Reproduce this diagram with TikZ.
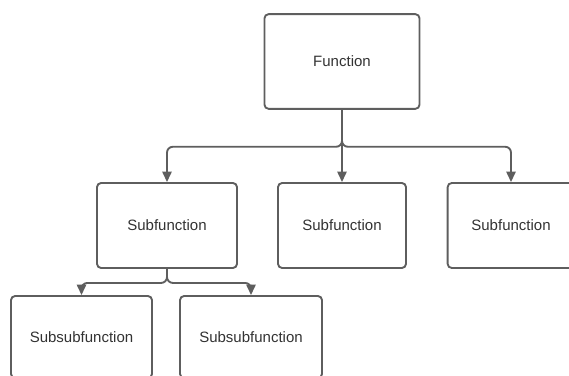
\documentclass[tikz,border=0pt]{standalone}
\usepackage{fontspec}
\setmainfont{Liberation Sans}
\usepackage{tikz}
\usetikzlibrary{arrows.meta}

\definecolor{lineGray}{HTML}{5E5E5E}
\definecolor{textGray}{HTML}{333333}

\tikzset{
  fbox/.style={draw=lineGray, line width=1.6pt, rounded corners=3.5pt, fill=white,
    text=textGray, font=\fontsize{12.8}{15}\selectfont, inner sep=0pt},
  conn/.style={draw=lineGray, line width=1.6pt, rounded corners=5pt,
    -{Triangle[width=8pt,length=9pt]}}
}

\begin{document}
\begin{tikzpicture}[x=0.03cm,y=-0.03cm]
\useasboundingbox (0,0) rectangle (569,376);
\clip (0,0) rectangle (569,376);
\node[fbox, minimum width=4.65cm, minimum height=2.84cm] (fn) at (342,61.5) {Function};
\node[fbox, minimum width=4.2cm, minimum height=2.55cm] (sub1) at (167,225.5) {Subfunction};
\node[fbox, minimum width=3.84cm, minimum height=2.55cm] (sub2) at (342,225.5) {Subfunction};
\node[fbox, minimum width=3.8cm, minimum height=2.55cm] (sub3) at (511,225.5) {Subfunction};
\node[fbox, minimum width=4.23cm, minimum height=2.46cm] (subsub1) at (81.5,337) {Subsubfunction};
\node[fbox, minimum width=4.26cm, minimum height=2.46cm] (subsub2) at (251,337) {Subsubfunction};
%
\draw[conn] (fn.south) -- ++(0,37) -| (sub1.north);
\draw[conn] (fn.south) -- ++(0,37) -| (sub3.north);
\draw[conn] (fn.south) -- (sub2.north);
\draw[conn] (sub1.south) -- ++(0,14) -| (subsub1.north);
\draw[conn] (sub1.south) -- ++(0,14) -| (subsub2.north);
\end{tikzpicture}
\end{document}
